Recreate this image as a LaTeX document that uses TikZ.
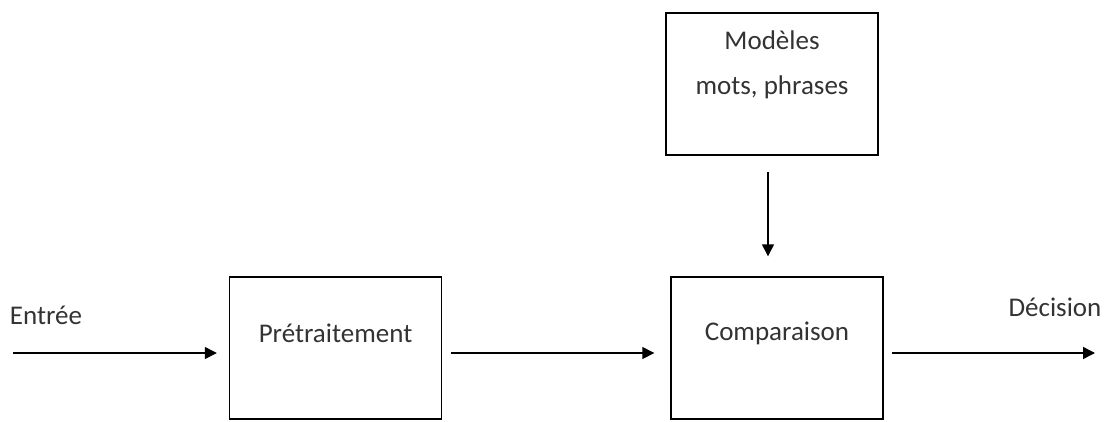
\documentclass[tikz,border=0pt]{standalone}
\usepackage{fontspec}
\setmainfont{Carlito}
\usepackage{tikz}
\usetikzlibrary{arrows.meta}
\usetikzlibrary{positioning}

\begin{document}
\begin{tikzpicture}[x=1pt, y=-1pt, font=\fontsize{27}{45}\selectfont, text=black!80,
  box/.style={draw, line width=1.4pt, minimum width=212pt, minimum height=142pt, inner sep=0pt},
  arr/.style={line width=1.4pt, -{Triangle[length=12pt,width=12pt]}}]
\useasboundingbox (0,0) rectangle (1109,421);
\node[box, label={[yshift=15pt]center:Prétraitement}] (pre) at (335.5,348) {};
\node[box, label={[yshift=15pt]center:Comparaison}] (comp) at (777,348) {};
\node[box, label={[yshift=19pt, align=center]center:Modèles\\mots, phrases}] (mod) at (772,84) {};
\coordinate (in) at (13,353);
\coordinate (out) at (1095,353);
\node[anchor=center] (inlbl) at (46,315) {Entrée};
\node[anchor=center] (outlbl) at (1055,307) {Décision};
\draw[arr] (in) -- ([xshift=-12pt,yshift=-5pt]pre.west);
\draw[arr] ([xshift=9pt,yshift=-5pt]pre.east) -- ([xshift=-16pt,yshift=-5pt]comp.west);
\draw[arr] ([xshift=8pt,yshift=-5pt]comp.east) -- (out);
\draw[arr] ([xshift=-4pt,yshift=-16pt]mod.south) -- ([xshift=-9pt,yshift=20pt]comp.north);
\end{tikzpicture}
\end{document}
